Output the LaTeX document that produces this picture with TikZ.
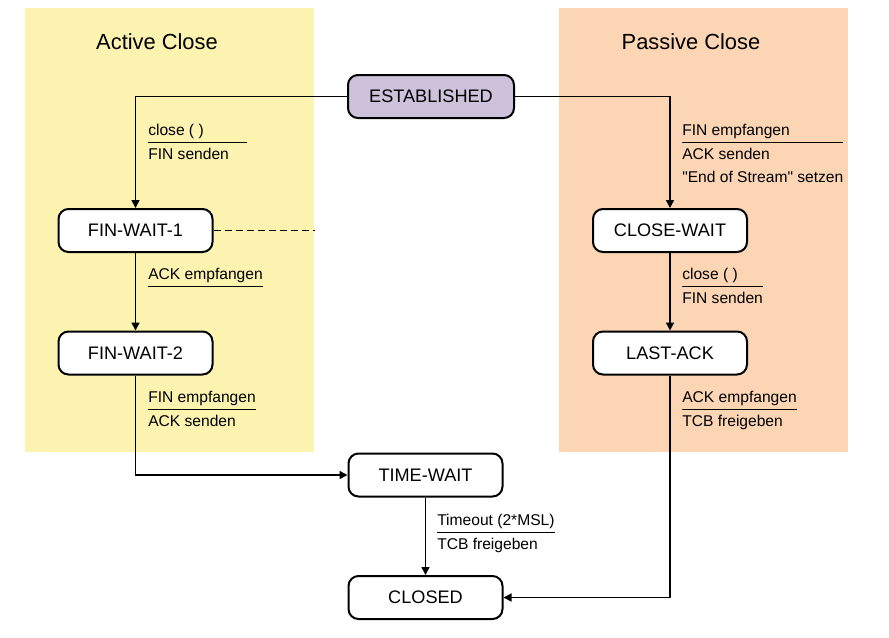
\documentclass[tikz,border=0pt]{standalone}
\usepackage{fontspec}
\setmainfont{Liberation Sans}
\usetikzlibrary{arrows.meta}
\definecolor{activebg}{HTML}{FCF3B1}
\definecolor{passivebg}{HTML}{FBD5B4}
\definecolor{estfill}{HTML}{CEC1DA}
\setlength{\arrayrulewidth}{0.75pt}
\newcommand{\translabel}[1]{\begin{tabular}[t]{@{}l@{}}#1\end{tabular}}

\begin{document}
\begin{tikzpicture}[x=0.75pt,y=-0.75pt,
  state/.style={draw, line width=1.5pt, rounded corners=7.5pt, fill=white,
    minimum width=115.5pt, minimum height=32.25pt, inner sep=0pt,
    font=\fontsize{13.6}{16}\selectfont},
  trans/.style={anchor=base west, inner sep=0pt, font=\fontsize{11.7}{17.5}\selectfont},
  arr/.style={-{Triangle[length=6pt,width=6pt]}, line width=1.1pt},
  title/.style={anchor=base, font=\fontsize{16.4}{20}\selectfont}]
\useasboundingbox (0,0) rectangle (889,637);
% the two areas
\fill[activebg] (25,8) rectangle (314,452);
\fill[passivebg] (559,8) rectangle (848,452);
\node[title] (activetitle) at (157,49) {Active Close};
\node[title] (passivetitle) at (691,49) {Passive Close};
% states
\node[state, fill=estfill, minimum width=124.5pt] (est) at (431,96.5) {ESTABLISHED};
\node[state] (finwait1) at (135.5,230.5) {FIN-WAIT-1};
\node[state] (finwait2) at (135.5,353) {FIN-WAIT-2};
\node[state] (closewait) at (670,230.5) {CLOSE-WAIT};
\node[state] (lastack) at (670,353) {LAST-ACK};
\node[state] (timewait) at (425.5,475) {TIME-WAIT};
\node[state] (closed) at (425.5,597.5) {CLOSED};
% transitions
\draw[arr] (est.west) -| (finwait1.north);
\draw[arr] (est.east) -| (closewait.north);
\draw[arr] (finwait1) -- (finwait2);
\draw[arr] (closewait) -- (lastack);
\draw[arr] (finwait2.south) |- (timewait.west);
\draw[arr] (timewait) -- (closed);
\draw[arr] (lastack.south) |- (closed.east);
\coordinate (areaedge) at (315,230.5);
\draw[line width=1.1pt, dash pattern=on 5.25pt off 3pt] (finwait1.east) -- (areaedge);
% labels
\node[trans] (lclose) at (148,135) {\translabel{\makebox[74pt][l]{close ( )}\\\hline FIN senden}};
\node[trans] (lack) at (148,279) {\translabel{ACK empfangen\\\hline}};
\node[trans] (lfin) at (148,402) {\translabel{FIN empfangen\\\hline ACK senden}};
\node[trans] (rfin) at (682,135) {\translabel{FIN empfangen\\\hline ACK senden\\\textquotedbl End of Stream\textquotedbl{} setzen}};
\node[trans] (rclose) at (682,279) {\translabel{close ( )\\\hline FIN senden}};
\node[trans] (rack) at (682,402) {\translabel{ACK empfangen\\\hline TCB freigeben}};
\node[trans] (ltimeout) at (437,525) {\translabel{Timeout (2*MSL)\\\hline TCB freigeben}};
\end{tikzpicture}
\end{document}
